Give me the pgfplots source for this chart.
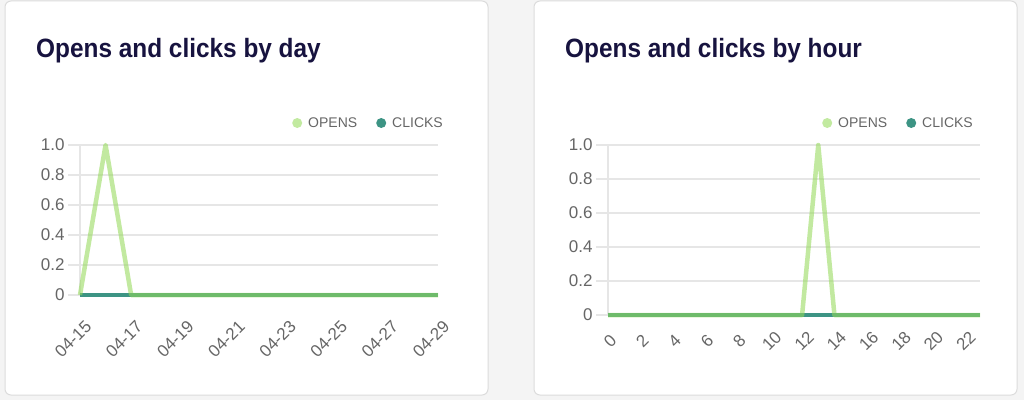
\documentclass[border=0pt]{standalone}
\usepackage{pgfplots}
\pgfplotsset{compat=1.18}
\usepackage{fontspec}
\setmainfont{Liberation Sans}
\newfontfamily\titlefont[FakeStretch=0.92]{Liberation Sans}
\definecolor{bg}{HTML}{F4F4F4}
\definecolor{cardb}{HTML}{DCDCDC}
\definecolor{gridc}{HTML}{E6E6E6}
\definecolor{titlec}{HTML}{17133F}
\definecolor{tickc}{HTML}{666666}
\definecolor{opensc}{RGB}{148,218,88}
\definecolor{opensl}{RGB}{194,234,160}
\definecolor{clicksc}{RGB}{61,148,132}
\pgfplotsset{
  card/.style={
    scale only axis, anchor=south west,
    ymin=0, ymax=1,
    ytick={0,0.2,0.4,0.6,0.8,1}, yticklabels={0,0.2,0.4,0.6,0.8,1.0},
    axis line style={draw=none},
    tick pos=left,
    ymajorgrids,
    major grid style={draw=gridc, line width=1.2pt},
    ytick style={draw=gridc, line width=1.2pt},
    xtick style={draw=none},
    tick align=outside,
    major tick length=12pt,
    tick label style={font=\fontsize{17}{17}\selectfont, text=tickc},
    /pgf/number format/assume math mode=true,
    clip=false,
    extra x ticks={0}, extra x tick labels={},
    extra x tick style={grid=major, major tick length=0pt},
    legend columns=2,
    legend image code/.code={\fill[##1, draw=none] (0pt,0pt) circle (5pt);},
    legend style={draw=none, fill=none, inner sep=0pt, text=tickc,
      font=\fontsize{14}{14}\selectfont,
      nodes={inner sep=0pt},
      /tikz/every odd column/.append style={column sep=6pt},
      /tikz/every even column/.append style={column sep=19pt}},
  },
  opens/.style={draw=opensc, opacity=0.57, line width=4.5pt, line join=round, mark=none},
  clicks/.style={draw=clicksc, line width=4.5pt, line join=round, mark=none},
}
\begin{document}
\begin{tikzpicture}
\useasboundingbox (0,0) rectangle (1024pt,400pt);
\fill[bg] (0,0) rectangle (1024pt,400pt);
\filldraw[fill=white, draw=cardb, line width=1pt, rounded corners=6pt] (5pt,5pt) rectangle (488pt,399pt);
\filldraw[fill=white, draw=cardb, line width=1pt, rounded corners=6pt] (534pt,5pt) rectangle (1017pt,399pt);
\node[anchor=base west, inner sep=0pt, text=titlec, font=\titlefont\fontsize{26.5}{26}\selectfont\bfseries] at (36pt,343pt) {Opens and clicks by day};
\node[anchor=base west, inner sep=0pt, text=titlec, font=\titlefont\fontsize{26.5}{26}\selectfont\bfseries] at (565pt,343pt) {Opens and clicks by hour};

\begin{axis}[card, at={(80pt,105pt)}, width=358pt, height=150pt,
  xmin=0, xmax=14, xtick={0,2,4,6,8,10,12,14},
  xticklabels={04-15,04-17,04-19,04-21,04-23,04-25,04-27,04-29},
  x tick label style={anchor=center, xshift=-7pt, yshift=-32pt, rotate=45},
  legend style={at={(1,1)}, anchor=east, xshift=5pt, yshift=22pt}]
\addlegendimage{fill=opensl}\addlegendentry{OPENS}
\addlegendimage{fill=clicksc}\addlegendentry{CLICKS}
\addplot[clicks, forget plot] coordinates {(0,0)(1,0)(2,0)(3,0)(4,0)(5,0)(6,0)(7,0)(8,0)(9,0)(10,0)(11,0)(12,0)(13,0)(14,0)};
\addplot[opens, forget plot] coordinates {(0,0)(1,1)(2,0)(3,0)(4,0)(5,0)(6,0)(7,0)(8,0)(9,0)(10,0)(11,0)(12,0)(13,0)(14,0)};
\end{axis}

\begin{axis}[card, at={(608pt,85pt)}, width=372pt, height=170pt,
  xmin=0, xmax=23, xtick={0,2,4,6,8,10,12,14,16,18,20,22},
  xticklabels={0,2,4,6,8,10,12,14,16,18,20,22},
  x tick label style={anchor=center, xshift=2pt, yshift=-14pt, rotate=45},
  legend style={at={(1,1)}, anchor=east, xshift=-7pt, yshift=22pt}]
\addlegendimage{fill=opensl}\addlegendentry{OPENS}
\addlegendimage{fill=clicksc}\addlegendentry{CLICKS}
\addplot[clicks, forget plot] coordinates {(0,0)(1,0)(2,0)(3,0)(4,0)(5,0)(6,0)(7,0)(8,0)(9,0)(10,0)(11,0)(12,0)(13,0)(14,0)(15,0)(16,0)(17,0)(18,0)(19,0)(20,0)(21,0)(22,0)(23,0)};
\addplot[opens, forget plot] coordinates {(0,0)(1,0)(2,0)(3,0)(4,0)(5,0)(6,0)(7,0)(8,0)(9,0)(10,0)(11,0)(12,0)(13,1)(14,0)(15,0)(16,0)(17,0)(18,0)(19,0)(20,0)(21,0)(22,0)(23,0)};
\end{axis}
\end{tikzpicture}
\end{document}
